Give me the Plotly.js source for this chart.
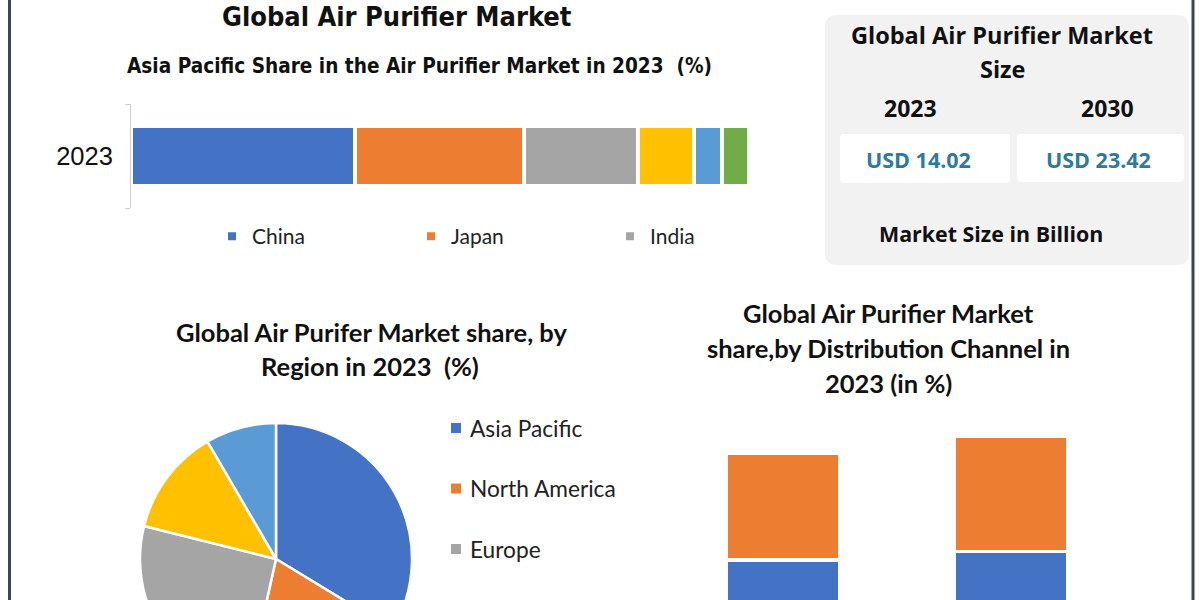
<!DOCTYPE html>
<html><head><meta charset="utf-8">
<script src="https://cdn.plot.ly/plotly-3.0.1.min.js"></script>
<style>
html,body{margin:0;padding:0;overflow:hidden;background:#fff}
#wrap{width:1200px;height:600px;overflow:hidden;position:relative}
#chart{width:1200px;height:800px}
</style>
</head><body><div id="wrap"><div id="chart"></div></div>
<script>
// ---------- data ----------
const apYear = ['2023'];
const apCountries = ['China', 'Japan', 'India', 'South Korea', 'Australia', 'Rest of Asia Pacific'];
const apShare = [36.2, 27.4, 18.4, 9.1, 4.6, 4.3];
const apColors = ['#4472C4', '#ED7D31', '#A5A5A5', '#FFC000', '#5B9BD5', '#70AD47'];

const regions = ['Asia Pacific', 'North America', 'Europe', 'Middle East and Africa', 'South America'];
const regionShare = [33.7, 19.8, 25.4, 12.7, 8.4];
const regionColors = ['#4472C4', '#ED7D31', '#A5A5A5', '#FFC000', '#5B9BD5'];

const channelCats = ['Residential', 'Commercial'];
const channelSeries = ['Offline', 'Online'];
const channelValues = [[60.0, 64.3], [53.3, 57.5]];
const channelColors = ['#4472C4', '#ED7D31'];

const sizeYears = ['2023', '2030'];
const sizeValues = [14.02, 23.42];

// ---------- helpers ----------
const W = 1200, H = 800, VIEW_H = 600;
const PX = x => x / W, PY = y => 1 - y / H;
const NARROW = 'Liberation Sans Narrow, DejaVu Sans Condensed, Roboto, sans-serif';
const HUM = 'Lato, Open Sans, sans-serif';
const BOX = 'Open Sans, Noto Sans, sans-serif';
function ann(text, x, y, size, family, opts) {
  return Object.assign({
    text: text, x: PX(x), y: PY(y), xref: 'paper', yref: 'paper',
    xanchor: 'center', yanchor: 'middle', showarrow: false,
    font: {family: family, size: size, color: '#111111'}
  }, opts || {});
}
function rrect(x0, y0, x1, y1, r, fill) {
  const p = `M${PX(x0 + r)},${PY(y0)} L${PX(x1 - r)},${PY(y0)} Q${PX(x1)},${PY(y0)} ${PX(x1)},${PY(y0 + r)} ` +
    `L${PX(x1)},${PY(y1 - r)} Q${PX(x1)},${PY(y1)} ${PX(x1 - r)},${PY(y1)} L${PX(x0 + r)},${PY(y1)} ` +
    `Q${PX(x0)},${PY(y1)} ${PX(x0)},${PY(y1 - r)} L${PX(x0)},${PY(y0 + r)} Q${PX(x0)},${PY(y0)} ${PX(x0 + r)},${PY(y0)} Z`;
  return {type: 'path', xref: 'paper', yref: 'paper', path: p, fillcolor: fill, line: {width: 0}, layer: 'below'};
}

// ---------- traces ----------
const traces = [];
apCountries.forEach((c, i) => {
  traces.push({
    type: 'bar', orientation: 'h', name: c, y: apYear, x: [apShare[i]],
    marker: {color: apColors[i], line: {color: '#ffffff', width: 4}},
    xaxis: 'x', yaxis: 'y', showlegend: i < 3, legend: 'legend', hoverinfo: 'name+x'
  });
});
traces.push({
  type: 'pie', labels: regions, values: regionShare, sort: false, direction: 'clockwise', rotation: 0,
  marker: {colors: regionColors, line: {color: '#ffffff', width: 2.5}},
  textinfo: 'none', showlegend: false,
  domain: {x: [PX(140), PX(412)], y: [PY(695), PY(423)]}
});
channelSeries.forEach((s, i) => {
  traces.push({
    type: 'bar', name: s, x: channelCats, y: channelValues[i], width: 113 / 228,
    marker: {color: channelColors[i], line: {color: '#ffffff', width: 3.5}},
    xaxis: 'x2', yaxis: 'y2', showlegend: false
  });
});

// ---------- layout pieces ----------
const annotations = [
  ann('<b>Global Air Purifier Market</b>', 397, 16, 27, NARROW),
  ann('<b>Asia Pacific Share in the Air Purifier Market in 2023  (%)</b>', 419, 66, 20.6, NARROW),
  ann('<b>Global Air Purifer Market share, by</b>', 371, 332, 25.5, HUM),
  ann('<b>Region in 2023  (%)</b>', 370, 366, 25.5, HUM),
  ann('<b>Global Air Purifier Market</b>', 888, 313, 25.5, HUM),
  ann('<b>share,by Distribution Channel in</b>', 888, 348, 25.5, HUM),
  ann('<b>2023 (in %)</b>', 888, 383, 25.5, HUM),
  ann('<b>Global Air Purifier Market</b>', 1002, 35, 23.5, BOX),
  ann('<b>Size</b>', 1002, 69, 23.5, BOX),
  ann('<b>Market Size in Billion</b>', 991, 233, 21.4, BOX)
];
const yearX = [910, 1107];
const valX = [918, 1098];
sizeYears.forEach((yr, i) => {
  annotations.push(ann('<b>' + yr + '</b>', yearX[i], 108, 23, BOX));
  annotations.push(ann('<b>USD ' + sizeValues[i].toFixed(2) + '</b>', valX[i], 160, 21.5, BOX,
    {font: {family: BOX, size: 21.5, color: '#2F7A9C'}}));
});

const shapes = [
  rrect(825, 15, 1189, 265, 12, '#F2F2F2'),
  rrect(840, 134, 1010, 183, 4, '#FFFFFF'),
  rrect(1017, 134, 1184, 182, 4, '#FFFFFF'),
  {type: 'line', xref: 'paper', yref: 'paper', x0: PX(9.5), x1: PX(9.5), y0: 0, y1: 1, line: {color: '#3A4550', width: 3}},
  {type: 'line', xref: 'paper', yref: 'paper', x0: PX(1193), x1: PX(1193), y0: 0, y1: 1, line: {color: '#3A4550', width: 3}}
];
// pie legend (drawn from region arrays); entries that fall below the visible frame are cropped, as in the source
regions.forEach((r, i) => {
  const yc = 428 + i * 60.5;
  if (yc + 12 > VIEW_H) return;
  shapes.push({type: 'rect', xref: 'paper', yref: 'paper', x0: PX(451), x1: PX(461), y0: PY(yc + 5), y1: PY(yc - 5),
    fillcolor: regionColors[i], line: {width: 0}});
  annotations.push(ann(r, 468, yc, 22.7, HUM, {xanchor: 'left', font: {family: HUM, size: 22.7, color: '#222222'}}));
});

const layout = {
  width: W, height: H, margin: {l: 0, r: 0, t: 0, b: 0},
  paper_bgcolor: '#ffffff', plot_bgcolor: 'rgba(0,0,0,0)',
  barmode: 'stack', bargap: 0.43, showlegend: true,
  xaxis: {domain: [PX(131), PX(749)], range: [0, apShare.reduce((a, b) => a + b, 0)], visible: false, fixedrange: true},
  yaxis: {domain: [PY(208), PY(104)], type: 'category', showline: true, linecolor: '#D0D0D0', linewidth: 1,
    ticks: 'outside', tickson: 'boundaries', ticklen: 5, tickcolor: '#D0D0D0', showgrid: false, zeroline: false,
    ticklabelstandoff: 12, tickfont: {family: 'Liberation Sans, Arial, sans-serif', size: 25.5, color: '#111'}},
  xaxis2: {domain: [PX(669), PX(1125)], type: 'category', anchor: 'y2', showgrid: false, showticklabels: false, ticks: ''},
  yaxis2: {domain: [PY(680), PY(430)], range: [0, 125], anchor: 'x2', visible: false},
  legend: {orientation: 'h', x: PX(212), y: PY(216), xanchor: 'left', yanchor: 'top', entrywidth: 154, entrywidthmode: 'pixels',
    font: {family: HUM, size: 21, color: '#222222'}, bgcolor: 'rgba(0,0,0,0)', traceorder: 'normal'},
  annotations: annotations, shapes: shapes
};
Plotly.newPlot('chart', traces, layout, {staticPlot: true, displayModeBar: false});
</script>
</body></html>
